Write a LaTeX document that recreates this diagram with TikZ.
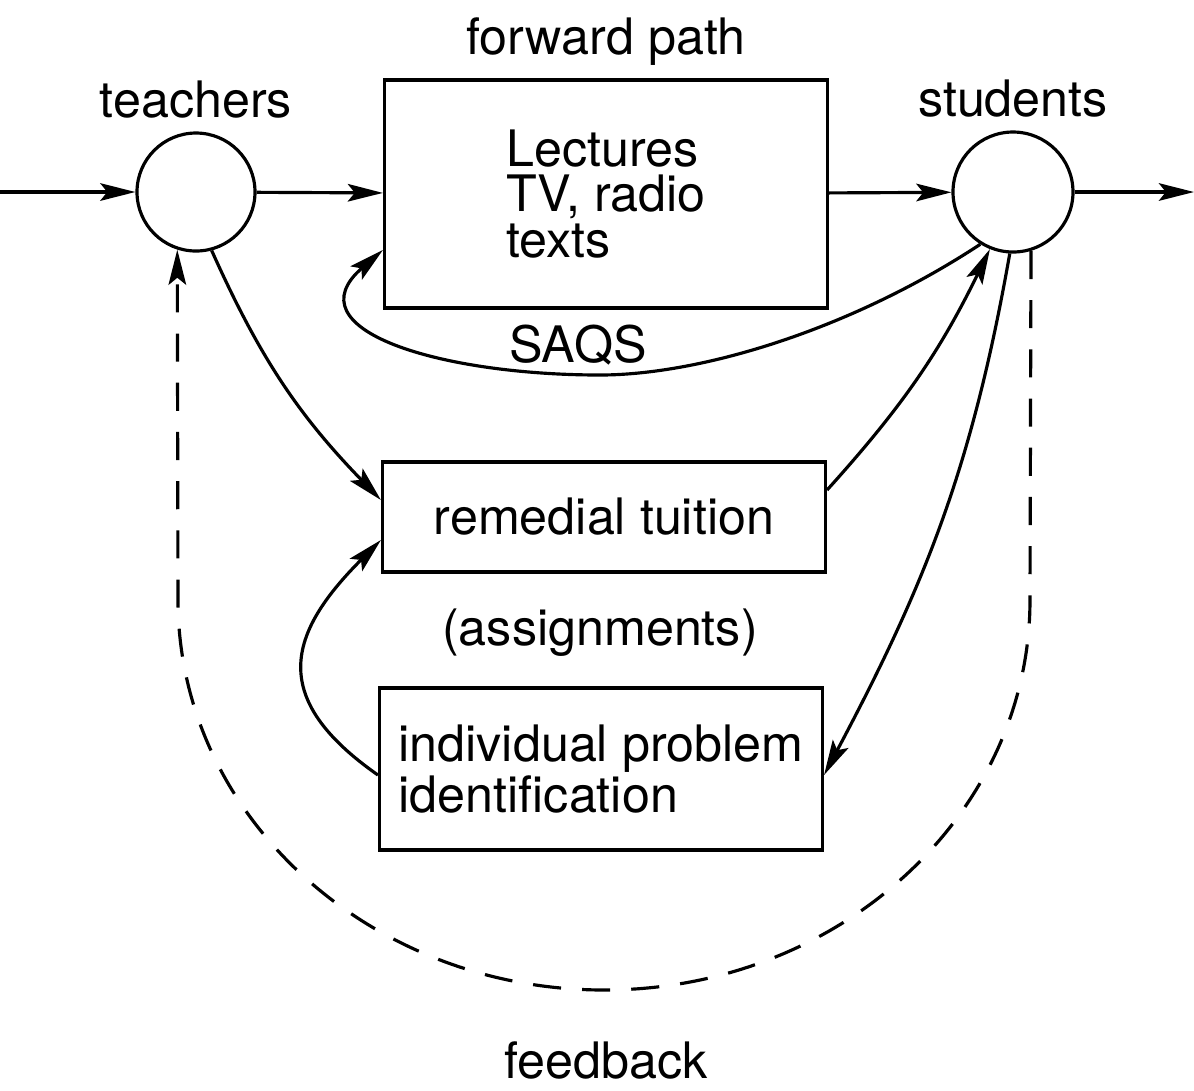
\documentclass[tikz,border=0pt]{standalone}
\usepackage{fontspec}
\setmainfont{TeX Gyre Heros}
\usetikzlibrary{arrows.meta,positioning}

\begin{document}
\begin{tikzpicture}[-,>={Stealth[length=10pt,width=5pt,inset=2pt]},line width=0.9pt,
  every node/.style={font=\fontsize{14.3}{13}\selectfont},
  main node/.style={circle,draw,minimum size=1.18cm,inner sep=0pt},
  box node/.style={rectangle,draw,align=left,minimum width=4.43cm}]

  \useasboundingbox (0,0) rectangle (11.94,-10.90);

  \node[main node] (1) at (1.96,-1.92) [label={[label distance=0pt]above:teachers}] {};
  \node[box node, minimum height=2.28cm] (2) at (6.06,-1.94) {Lectures\\TV, radio\\texts};
  \node[main node, minimum size=1.2cm] (3) at (10.13,-1.92) [label={[label distance=0pt]above:students}] {};
  \node[box node, minimum height=1.10cm] (4) at (6.04,-5.17) {remedial tuition};
  \node[box node, minimum height=1.62cm] (5) at (6.01,-7.69) {individual problem\\identification};

  \node[above=0pt of 2] {forward path};
  \node[anchor=base] (saqs) at (5.78,-3.62) {SAQS};
  \node[anchor=base] (assign) at (6.00,-6.45) {(assignments)};
  \node[anchor=base] (fb) at (6.06,-10.78) {feedback};

  \coordinate (in) at (0,-1.92);
  \coordinate (out) at (11.94,-1.92);

  % forward path
  \draw[->] (in) to (1);
  \draw[->] (1) to (2);
  \draw[->] (2) to (3);
  \draw[->] (3) to (out);

  % self assessment loop back into the box
  \draw[->] (3.238) .. controls (8.5,-3.3) and (7.0,-3.75) .. (6.0,-3.75)
    .. controls (4.4,-3.75) and (2.9,-3.3) .. ([yshift=-0.56cm]2.west);

  \draw[->] (1.-75) to[bend right=10] ([yshift=0.17cm]4.west);
  \draw[->] ([yshift=0.27cm]4.east) to[bend right=8] (3.-112);
  \draw[->] (3.-93) to[out=-100,in=62] ([yshift=-0.06cm]5.east);
  \draw[->] ([yshift=-0.06cm]5.west) to[out=145,in=225,looseness=1.45] ([yshift=-0.23cm]4.west);

  % feedback
  \draw[->,dash pattern=on 8pt off 6pt] (3.-73) -- (10.30,-6.0)
    .. controls (10.30,-8.15) and (8.39,-9.90) .. (6.04,-9.90)
    .. controls (3.69,-9.90) and (1.78,-8.15) .. (1.78,-6.0) -- (1.-108);

\end{tikzpicture}
\end{document}
